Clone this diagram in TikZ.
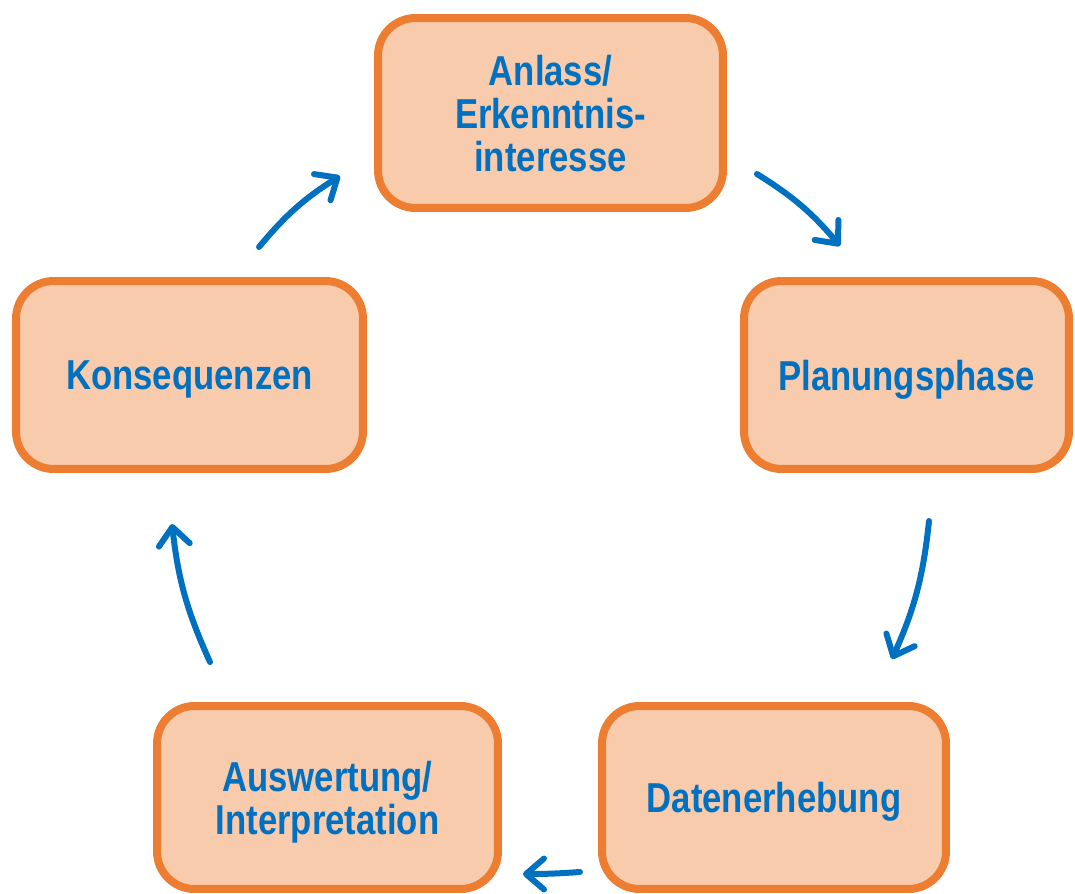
\documentclass[tikz,border=0pt]{standalone}
\usepackage{fontspec}
\setmainfont{Liberation Sans}[FakeStretch=0.83]
\usetikzlibrary{positioning,arrows.meta}

\definecolor{boxline}{HTML}{ED7D31}
\definecolor{boxfill}{HTML}{F8CBAD}
\definecolor{textblue}{HTML}{0070C0}

\tikzset{
  phase/.style={draw=boxline, fill=boxfill, line width=0.16cm, rounded corners=0.75cm,
    align=center, text=textblue, text depth=0pt, font=\bfseries\fontsize{23.8}{24.4}\selectfont},
  cyclearrow/.style={draw=textblue, line width=0.12cm, line cap=round,
    -{Straight Barb[length=0.36cm, width=0.62cm, round]}}
}

\begin{document}
\begin{tikzpicture}[x=0.02cm, y=-0.02cm]
  \useasboundingbox (0,0) rectangle (1075,893);
  % the five phases
  \node[phase, minimum width=6.9cm, minimum height=3.8cm] (anlass) at (550.5,113) {Anlass/\\Erkenntnis-\\interesse};
  \node[phase, minimum width=6.5cm, minimum height=3.76cm] (planung) at (906.5,375) {Planungsphase};
  \node[phase, minimum width=6.88cm, minimum height=3.66cm] (daten) at (774,797.5) {Datenerhebung};
  \node[phase, minimum width=6.82cm, minimum height=3.66cm] (auswertung) at (327.5,797.5) {Auswertung/\\Interpretation};
  \node[phase, minimum width=6.94cm, minimum height=3.76cm] (konsequenzen) at (189.5,375) {Konsequenzen};
  % arrow ends
  \coordinate (a1s) at (757,174); \coordinate (a1e) at (840,246);
  \coordinate (a2s) at (929,521); \coordinate (a2e) at (892,659);
  \coordinate (a3s) at (580,872); \coordinate (a3e) at (523,874);
  \coordinate (a4s) at (210,662); \coordinate (a4e) at (172,524);
  \coordinate (a5s) at (259,247); \coordinate (a5e) at (340,176);
  % cycle
  \draw[cyclearrow] (a1s) to[bend left=9] (a1e);
  \draw[cyclearrow] (a2s) to[bend left=9] (a2e);
  \draw[cyclearrow] (a3s) to[bend left=2] (a3e);
  \draw[cyclearrow] (a4s) to[bend left=9] (a4e);
  \draw[cyclearrow] (a5s) to[bend left=9] (a5e);
\end{tikzpicture}
\end{document}
